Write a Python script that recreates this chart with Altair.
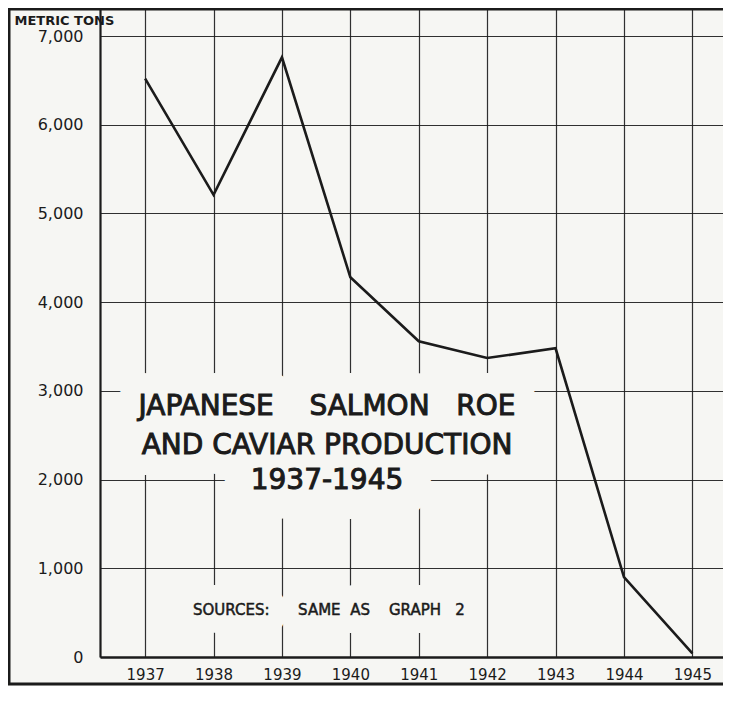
import altair as alt
import pandas as pd

# ---- data ----
years = [1937, 1938, 1939, 1940, 1941, 1942, 1943, 1944, 1945]
tons = [6520, 5210, 6760, 4280, 3560, 3370, 3480, 900, 40]
y_ticks = [0, 1000, 2000, 3000, 4000, 5000, 6000, 7000]
y_title = "METRIC TONS"
NB = "\u00a0"
title_lines = [
    f"JAPANESE{NB*4}SALMON{NB*3}ROE",
    "AND CAVIAR PRODUCTION",
    "1937-1945",
]
source_text = f"SOURCES:{NB*6}SAME{NB*2}AS{NB*4}GRAPH{NB*3}2"

df = pd.DataFrame({"year": years, "tons": tons})
one = pd.DataFrame({"k": [0]})

BG = "#f6f6f3"
INK = "#1b1b1b"
FONT = "DejaVu Sans"
# the plot runs past the right edge of the picture, as the reference is cut off there
W, H = 643, 649

x_enc = alt.X(
    "year:Q",
    scale=alt.Scale(domain=[1936.34, 1945.74], nice=False, zero=False),
    axis=alt.Axis(
        values=years, format="d", title=None, grid=True, ticks=False,
        labelPadding=10, labelFontSize=15, labelFont=FONT, labelColor=INK,
        labelOverlap=False, labelFlush=False,
        domainColor=INK, domainWidth=2.5, gridColor=INK, gridWidth=1.2,
        gridOpacity=0.9,
    ),
)
y_enc = alt.Y(
    "tons:Q",
    scale=alt.Scale(domain=[0, 7316], nice=False),
    axis=alt.Axis(
        values=y_ticks, format=",.0f", title=y_title, titleAngle=0,
        titleX=-86, titleY=12, titleAlign="left", titleBaseline="middle",
        titleFontSize=13, titleFont=FONT, titleFontWeight="bold", titleColor=INK,
        ticks=False, labelPadding=17, labelFontSize=16, labelFont=FONT,
        labelColor=INK, labelOverlap=False,
        domainColor=INK, domainWidth=2.2, gridColor=INK, gridWidth=1.2,
        gridOpacity=0.9,
    ),
)

line = alt.Chart(df).mark_line(color=INK, strokeWidth=2.6, strokeJoin="miter").encode(x=x_enc, y=y_enc)

layers = [line]

# title text with a paper-coloured halo (the gridlines are broken around the lettering)
title_y = [399, 438, 473]
halo_w = [42, 42, 60]
for txt, ty, hw in zip(title_lines, title_y, halo_w):
    halo = alt.Chart(one).mark_text(
        font=FONT, fontSize=28, align="center", baseline="middle",
        fill=BG, stroke=BG, strokeWidth=hw, strokeJoin="round",
    ).encode(x=alt.value(227), y=alt.value(ty), text=alt.value(txt))
    layers.append(halo)
for txt, ty in zip(title_lines, title_y):
    t = alt.Chart(one).mark_text(
        font=FONT, fontSize=28, align="center", baseline="middle",
        fill=INK, stroke=INK, strokeWidth=1.0,
    ).encode(x=alt.value(227), y=alt.value(ty), text=alt.value(txt))
    layers.append(t)

src_halo = alt.Chart(one).mark_text(
    font=FONT, fontSize=15, align="left", baseline="middle",
    fill=BG, stroke=BG, strokeWidth=36, strokeJoin="round",
).encode(x=alt.value(93), y=alt.value(602), text=alt.value(source_text))
src = alt.Chart(one).mark_text(
    font=FONT, fontSize=15, align="left", baseline="middle",
    fill=INK, stroke=INK, strokeWidth=0.5,
).encode(x=alt.value(93), y=alt.value(602), text=alt.value(source_text))
layers += [src_halo, src]

# picture frame: its right edge lies outside the picture (cut off, as in the reference)
frame = alt.Chart(one).mark_rect(filled=False, stroke=INK, strokeWidth=3, fillOpacity=0).encode(
    x=alt.value(-91), x2=alt.value(W + 30), y=alt.value(1), y2=alt.value(676))
layers.append(frame)

chart = alt.layer(*layers).properties(
    width=W, height=H,
    autosize="none",
    padding={"left": 92, "top": 0, "right": -20, "bottom": 29},
    background=BG,
).configure_view(strokeWidth=0, stroke="transparent")

chart.save("out.html", embed_options={"renderer": "svg", "actions": False})
